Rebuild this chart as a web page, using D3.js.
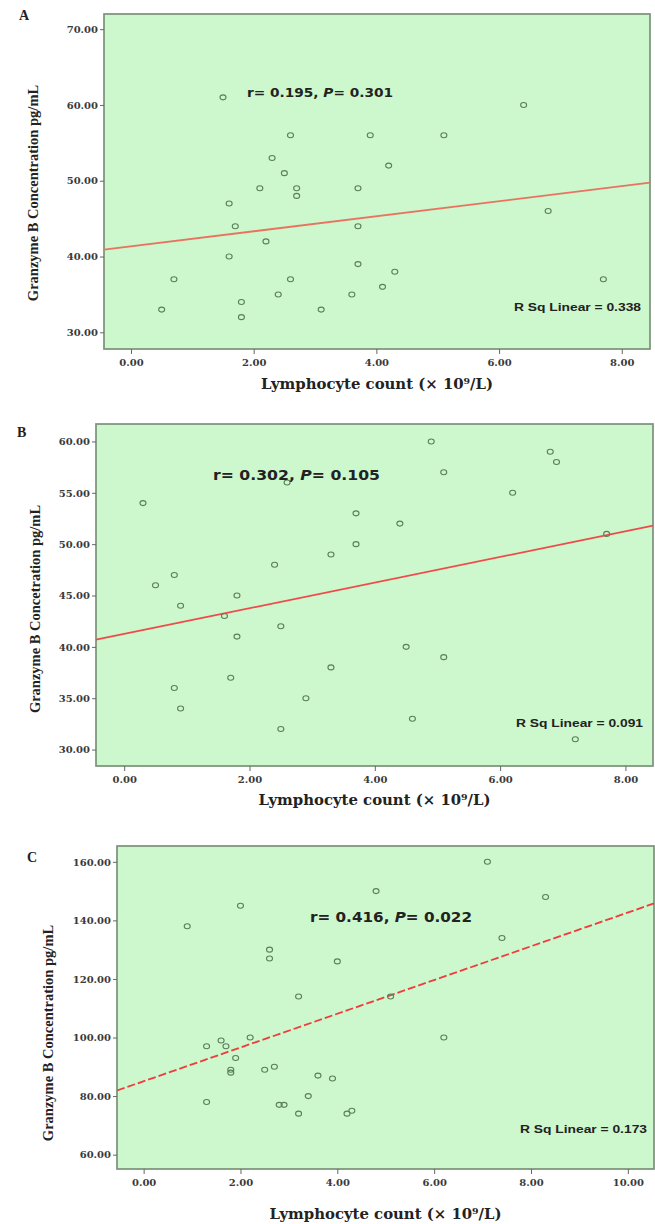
<html>
<head>
<meta charset="utf-8">
<title>Granzyme B vs lymphocyte count</title>
<script src="https://d3js.org/d3.v7.min.js"></script>
<style>
body { margin:0; background:#fff; }
svg text { fill:#222; }
.tick text { font-family:"DejaVu Serif", serif; font-weight:bold; font-size:10px; fill:#3a3a3a; }
.ttl { font-family:"Liberation Serif", serif; font-weight:bold; }
.xttl { font-family:"DejaVu Serif", serif; font-weight:bold; }
.ann { font-family:"DejaVu Sans", sans-serif; font-weight:bold; }
.rsq { font-family:"Liberation Sans", sans-serif; font-weight:bold; font-size:10px; }
</style>
</head>
<body>
<div id="chart"></div>
<script>

// panel A : lymphocyte count vs granzyme B
var aCount = [1.5,2.6,2.3,2.5,2.1,2.7,2.7,1.6,1.7,2.2,1.6,0.7,2.6,2.4,1.8,1.8,0.5,3.1,
              6.4,3.9,5.1,4.2,3.7,3.7,6.8,3.7,4.3,4.1,3.6,7.7];
var aGzb   = [61,56,53,51,49,49,48,47,44,42,40,37,37,35,34,32,33,33,
              60,56,56,52,49,44,46,39,38,36,35,37];
var aFit = [41.34, 0.994];   // intercept, slope
var aText = ["r= 0.195, ", "P", "= 0.301"];
var aRsq = "R Sq Linear = 0.338";

// panel B
var bCount = [0.3,2.6,2.4,0.8,0.5,1.8,0.9,1.6,2.5,1.8,1.7,0.8,0.9,2.9,2.5,3.3,3.3,
              4.9,6.8,6.9,5.1,6.2,3.7,4.4,3.7,7.7,4.5,5.1,4.6,7.2];
var bGzb   = [54,56,48,47,46,45,44,43,42,41,37,36,34,35,32,49,38,
              60,59,58,57,55,53,52,50,51,40,39,33,31];
var bFit = [41.26, 1.249];
var bText = ["r= 0.302, ", "P", "= 0.105"];
var bRsq = "R Sq Linear = 0.091";

// panel C
var cCount = [2.0,0.9,2.6,2.6,3.2,2.2,1.3,1.6,1.7,1.9,1.8,1.8,2.5,2.7,1.3,2.8,2.9,3.4,3.2,3.6,3.9,
              7.1,4.8,8.3,7.4,4.0,5.1,6.2,4.2,4.3];
var cGzb   = [145,138,130,127,114,100,97,99,97,93,88,89,89,90,78,77,77,80,74,87,86,
              160,150,148,134,126,114,100,74,75];
var cFit = [85.07, 5.76];
var cText = ["r= 0.416, ", "P", "= 0.022"];
var cRsq = "R Sq Linear = 0.173";

var xTicks8 = [0,2,4,6,8];
var xTicks10 = [0,2,4,6,8,10];
var yTicksA = [30,40,50,60,70];
var yTicksB = [30,35,40,45,50,55,60];
var yTicksC = [60,80,100,120,140,160];

var xTitle = "Lymphocyte count (× 10⁹/L)";

var width = 655, height = 1224;
var svg = d3.select("#chart").append("svg").attr("width", width).attr("height", height);

var panels = [
  {letter:"A", xs:aCount, ys:aGzb, fit:aFit, txt:aText, rsq:aRsq,
   xDom:[-0.44,8.46], yDom:[27.8,72], xt:xTicks8, yt:yTicksA,
   box:[104,14,650,349], ytitle:"Granzyme B Concentration pg/mL", ytx:33, yty:193,
   xtOff:40, lx:19, ly:20, ann:[247,97,146,12.5], rsqAt:[641,311], line:"#e9735f", dash:null},
  {letter:"B", xs:bCount, ys:bGzb, fit:bFit, txt:bText, rsq:bRsq,
   xDom:[-0.45,8.44], yDom:[28.4,61.7], xt:xTicks8, yt:yTicksB,
   box:[96,424,653,766], ytitle:"Granzyme B Concetration pg/mL", ytx:35, yty:609,
   xtOff:39, lx:17, ly:437, ann:[213,480,167,14.5], rsqAt:[643,727], line:"#f04a4a", dash:null},
  {letter:"C", xs:cCount, ys:cGzb, fit:cFit, txt:cText, rsq:cRsq,
   xDom:[-0.55,10.54], yDom:[55.1,165.4], xt:xTicks10, yt:yTicksC,
   box:[117,846,654,1169], ytitle:"Granzyme B Concentration pg/mL", ytx:48, yty:1033,
   xtOff:50, lx:27, ly:862, ann:[310,922,162,14], rsqAt:[647,1133], line:"#f03c3c", dash:"8,3"}
];

panels.forEach(drawPanel);

function drawPanel(p) {
  var l = p.box[0], t = p.box[1], r = p.box[2], b = p.box[3];
  var x = d3.scaleLinear().domain(p.xDom).range([l, r]);
  var y = d3.scaleLinear().domain(p.yDom).range([b, t]);
  var g = svg.append("g");

  g.append("rect").attr("x", l).attr("y", t).attr("width", r - l).attr("height", b - t)
    .attr("fill", "#cdf7cd").attr("stroke", "#7a917a").attr("stroke-width", 1.7);

  var xa = g.append("g").attr("transform", "translate(0," + b + ")")
    .call(d3.axisBottom(x).tickValues(p.xt).tickSize(5).tickPadding(5).tickFormat(d3.format(".2f")));
  var ya = g.append("g").attr("transform", "translate(" + l + ",0)")
    .call(d3.axisLeft(y).tickValues(p.yt).tickSize(4).tickPadding(2).tickFormat(d3.format(".2f")));
  [xa, ya].forEach(function(a) {
    a.select(".domain").remove();
    a.selectAll(".tick line").attr("stroke", "#666");
  });

  // fit line across the plot
  var x0 = p.xDom[0], x1 = p.xDom[1];
  g.append("line")
    .attr("x1", x(x0)).attr("y1", y(p.fit[0] + p.fit[1] * x0))
    .attr("x2", x(x1)).attr("y2", y(p.fit[0] + p.fit[1] * x1))
    .attr("stroke", p.line).attr("stroke-width", 1.8)
    .attr("stroke-dasharray", p.dash);

  g.selectAll("ellipse.pt").data(d3.range(p.xs.length)).enter().append("ellipse")
    .attr("class", "pt")
    .attr("cx", function(i) { return x(p.xs[i]); })
    .attr("cy", function(i) { return y(p.ys[i]); })
    .attr("rx", 3).attr("ry", 2.5)
    .attr("fill", "none").attr("stroke", "#5b7f5b").attr("stroke-width", 1.1);

  // annotation r / P
  var a = g.append("text").attr("class", "ann")
    .attr("x", p.ann[0]).attr("y", p.ann[1]).attr("font-size", p.ann[3])
    .attr("textLength", p.ann[2]).attr("lengthAdjust", "spacingAndGlyphs");
  a.append("tspan").text(p.txt[0]);
  a.append("tspan").attr("font-style", "italic").text(p.txt[1]);
  a.append("tspan").text(p.txt[2]);

  g.append("text").attr("class", "rsq").attr("x", p.rsqAt[0] - 127).attr("y", p.rsqAt[1])
    .attr("textLength", 127).attr("lengthAdjust", "spacingAndGlyphs").text(p.rsq);

  g.append("text").attr("class", "xttl").attr("font-size", 14)
    .attr("x", (l + r) / 2 - 116).attr("y", b + p.xtOff)
    .attr("textLength", 232).attr("lengthAdjust", "spacingAndGlyphs").text(xTitle);

  g.append("text").attr("class", "ttl").attr("font-size", 14.5)
    .attr("transform", "translate(" + p.ytx + "," + p.yty + ") rotate(-90)")
    .attr("text-anchor", "middle").attr("dy", "0.35em").text(p.ytitle);

  g.append("text").attr("class", "ttl").attr("font-size", 14)
    .attr("x", p.lx).attr("y", p.ly).text(p.letter);
}

</script>
</body>
</html>
